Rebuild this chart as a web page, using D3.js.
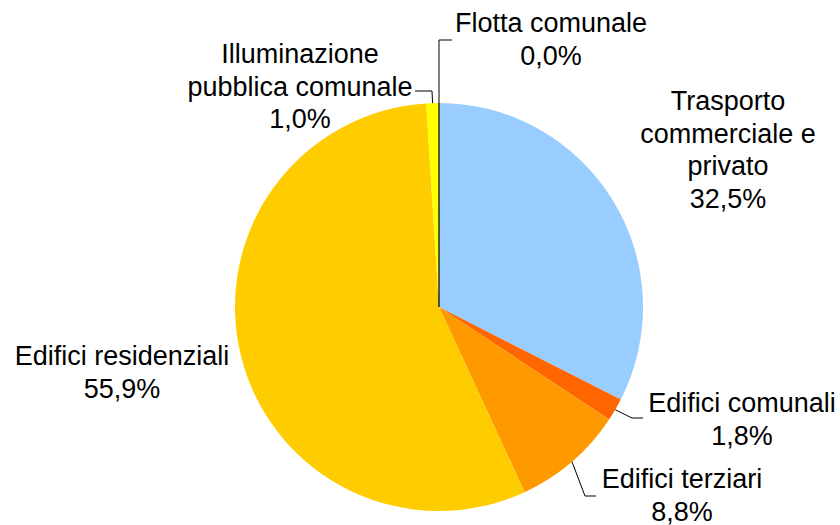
<!DOCTYPE html>
<html>
<head>
<meta charset="utf-8">
<script src="https://cdn.jsdelivr.net/npm/d3@7"></script>
<style>
  body { margin: 0; background: #fff; }
  text { font-family: "Liberation Sans", Arial, sans-serif; font-size: 27px; fill: #000; }
</style>
</head>
<body>
<div id="container"></div>
<script>
var width = 840,
    height = 525;

// slices, clockwise from 12 o'clock
var categories = [
  'Flotta comunale',
  'Trasporto commerciale e privato',
  'Edifici comunali',
  'Edifici terziari',
  'Edifici residenziali',
  'Illuminazione pubblica comunale'
];
var values = [0.0, 32.5, 1.8, 8.8, 55.9, 1.0];
var colors = ['#FFFFFF', '#99CCFF', '#FF6600', '#FF9900', '#FFCC00', '#FFFF00'];

// how each label is broken into lines
var labelLines = [
  ['Flotta comunale'],
  ['Trasporto', 'commerciale e', 'privato'],
  ['Edifici comunali'],
  ['Edifici terziari'],
  ['Edifici residenziali'],
  ['Illuminazione', 'pubblica comunale']
];

var cx = 439, cy = 307, radius = 204;
var lineH = 32.5;

// label block: centre x, first baseline; leader: elbow + end (null = no leader)
var layout = [
  {x: 551, y: 32,  leader: [[439, 40], [452, 40]]},
  {x: 728, y: 110, leader: null},
  {x: 742, y: 412, leader: [[632, 418], [643, 418]]},
  {x: 682, y: 488, leader: [[585, 496], [596, 496]]},
  {x: 122, y: 365, leader: null},
  {x: 300, y: 63,  leader: [[432, 91], [415, 91]]}
];

var fmt = function(v) { return v.toFixed(1).replace('.', ',') + '%'; };

var svg = d3.select('#container').append('svg')
    .attr('width', width)
    .attr('height', height);

var pie = d3.pie().sort(null).value(function(d) { return d; });
var arcs = pie(values);

var arc = d3.arc().innerRadius(0).outerRadius(radius);

var g = svg.append('g').attr('transform', 'translate(' + cx + ',' + cy + ')');

g.selectAll('.slice')
    .data(arcs)
  .enter().append('path')
    .attr('class', 'slice')
    .attr('d', arc)
    .style('fill', function(d, i) { return colors[i]; })
    .style('stroke', function(d) { return d.value === 0 ? '#000' : 'none'; })
    .style('stroke-width', 1.2);

// zero slice border line drawn explicitly
arcs.forEach(function(d, i) {
  if (d.value !== 0) return;
  var a = d.startAngle;
  svg.append('line')
      .attr('x1', cx).attr('y1', cy)
      .attr('x2', cx + radius * Math.sin(a))
      .attr('y2', cy - radius * Math.cos(a))
      .style('stroke', '#000')
      .style('stroke-width', 1.2);
});

// leader lines
arcs.forEach(function(d, i) {
  var L = layout[i];
  if (!L.leader) return;
  var mid = (d.startAngle + d.endAngle) / 2;
  var start = [cx + radius * Math.sin(mid), cy - radius * Math.cos(mid)];
  var pts = [start].concat(L.leader);
  svg.append('path')
      .attr('d', d3.line()(pts))
      .style('fill', 'none')
      .style('stroke', '#000')
      .style('stroke-width', 1);
});

// labels
var labels = svg.selectAll('.label')
    .data(arcs)
  .enter().append('text')
    .attr('class', 'label')
    .attr('text-anchor', 'middle');

labels.each(function(d, i) {
  var t = d3.select(this);
  var lines = labelLines[i].concat([fmt(values[i])]);
  lines.forEach(function(s, k) {
    t.append('tspan')
        .attr('x', layout[i].x)
        .attr('y', layout[i].y + k * lineH)
        .text(s);
  });
});
</script>
</body>
</html>
